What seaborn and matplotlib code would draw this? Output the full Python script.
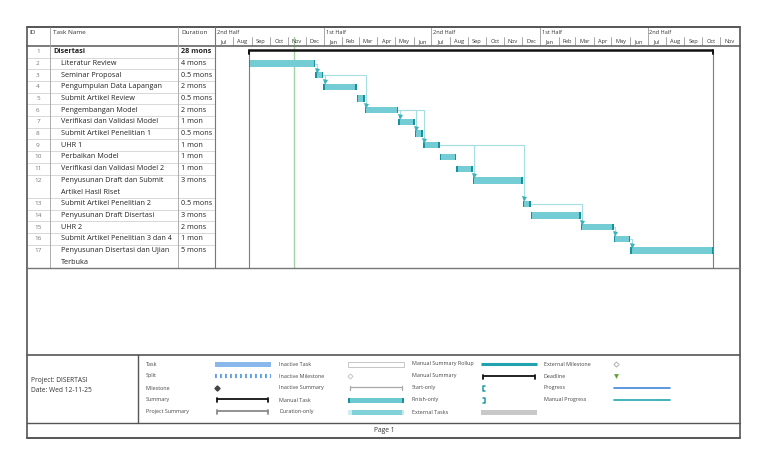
import numpy as np
import pandas as pd
import matplotlib
matplotlib.use("Agg")
import matplotlib.pyplot as plt
import matplotlib.dates as mdates
from matplotlib.patches import Rectangle
import seaborn as sns

# ---------------- data ----------------
task_ids = list(range(1, 18))
task_names = [
    "Disertasi", "Literatur Review", "Seminar Proposal", "Pengumpulan Data Lapangan",
    "Submit Artikel Review", "Pengembangan Model", "Verifikasi dan Validasi Model",
    "Submit Artikel Penelitian 1", "UHR 1", "Perbaikan Model",
    "Verifikasi dan Validasi Model 2", "Penyusunan Draft dan Submit\nArtikel Hasil Riset",
    "Submit Artikel Penelitian 2", "Penyusunan Draft Disertasi", "UHR 2",
    "Submit Artikel Penelitian 3 dan 4", "Penyusunan Disertasi dan Ujian\nTerbuka",
]
durations_mons = [28, 4, 0.5, 2, 0.5, 2, 1, 0.5, 1, 1, 1, 3, 0.5, 3, 2, 1, 5]
start_mons = [0, 0, 4, 4.5, 6.5, 7, 9, 10, 10.5, 11.5, 12.5, 13.5, 16.5, 17, 20, 22, 23]
row_lines = [1, 1, 1, 1, 1, 1, 1, 1, 1, 1, 1, 2, 1, 1, 1, 1, 2]
links = [(2, 3), (3, 4), (3, 6), (6, 7), (6, 8), (6, 9), (9, 12), (9, 13),
         (13, 15), (15, 16), (16, 17)]
project_start = "2025-08-27"
status_date = "2025-11-12"
timescale_start = "2025-07-01"
timescale_end = "2027-12-04"
days_per_mon = 28
project_name = "Project: DISERTASI"
project_date = "Date: Wed 12-11-25"

legend_col1 = ["Task", "Split", "Milestone", "Summary", "Project Summary"]
legend_col2 = ["Inactive Task", "Inactive Milestone", "Inactive Summary", "Manual Task", "Duration-only"]
legend_col3 = ["Manual Summary Rollup", "Manual Summary", "Start-only", "Finish-only", "External Tasks"]
legend_col4 = ["External Milestone", "Deadline", "Progress", "Manual Progress"]

# ---------------- style ----------------
sns.set_theme(style="white")
plt.rcParams["font.family"] = ["Open Sans", "DejaVu Sans"]

W, H = 768, 466
fig = plt.figure(figsize=(W / 100, H / 100), dpi=100)
fig.patch.set_facecolor("white")


def px_rect(x0, y0, x1, y1):
    return [x0 / W, 1 - y1 / H, (x1 - x0) / W, (y1 - y0) / H]


BAR = "#74cdd4"
CAP = "#17919b"
LINK = "#a6dfe3"
TXT = "#222222"

tops = np.concatenate([[0], np.cumsum(row_lines)[:-1]])
n_units = float(np.sum(row_lines))
centers = tops + 0.5

t0 = mdates.date2num(pd.Timestamp(timescale_start))
t1 = mdates.date2num(pd.Timestamp(timescale_end))
p0 = mdates.date2num(pd.Timestamp(project_start))
starts = p0 + np.array(start_mons) * days_per_mon
durs = np.array(durations_mons) * days_per_mon
ends = starts + durs

# ---------------- table ----------------
tab = fig.add_axes(px_rect(27, 46, 215, 268))
tab.set_xlim(27, 215)
tab.set_ylim(n_units, 0)
tab.axis("off")
for i, (tid, name, d) in enumerate(zip(task_ids, task_names, durations_mons)):
    top = tops[i]
    tab.text(38, top + 0.5, str(tid), ha="center", va="center", fontsize=4.6, color="#777777")
    bold = "bold" if i == 0 else "normal"
    x_name = 53 if i == 0 else 61
    for k, line in enumerate(name.split("\n")):
        tab.text(x_name, top + 0.5 + k, line, ha="left", va="center", fontsize=5.2,
                 color=TXT, fontweight=bold)
    dlabel = f"{d:g} mon" + ("" if d == 1 else "s")
    tab.text(181, top + 0.5, dlabel, ha="left", va="center", fontsize=5.2, color=TXT,
             fontweight=bold)
    tab.plot([27, 215], [top + row_lines[i]] * 2, color="#c9c9c9", lw=0.5)

# ---------------- gantt ----------------
gan = fig.add_axes(px_rect(215, 46, 740, 268))
gan.set_xlim(t0, t1)
gan.set_ylim(n_units, 0)
gan.axis("off")

# project start / finish lines and status date line
gan.plot([starts[0], starts[0]], [0.4, n_units], color="#7d7d7d", lw=0.8)
gan.plot([ends[0], ends[0]], [0.4, n_units], color="#7d7d7d", lw=0.8)
sd = mdates.date2num(pd.Timestamp(status_date))
gan.axvline(sd, color="#9fd49f", lw=1.0, zorder=1)

# summary bar
gan.plot([starts[0], ends[0]], [0.38, 0.38], color="#111111", lw=1.8, solid_capstyle="butt")
gan.plot([starts[0], starts[0]], [0.3, 0.68], color="#111111", lw=1.4)
gan.plot([ends[0], ends[0]], [0.3, 0.68], color="#111111", lw=1.4)

# links
bar_h = 0.54
for p, s in links:
    pi, si = p - 1, s - 1
    xs = starts[si] + 2.5
    ytop = centers[si] - bar_h / 2
    gan.plot([ends[pi], xs, xs], [centers[pi], centers[pi], ytop - 0.15],
             color=LINK, lw=0.8, zorder=2)
    gan.plot([xs], [ytop - 0.12], marker="v", markersize=3.6, color="#3db2bb",
             markeredgewidth=0, zorder=4)

# task bars
cap = 2.6
gan.barh(centers[1:], durs[1:], left=starts[1:], height=bar_h, color=BAR,
         edgecolor="none", zorder=3)
gan.barh(centers[1:], [cap] * 16, left=starts[1:], height=bar_h, color=CAP,
         edgecolor="none", zorder=3)
gan.barh(centers[1:], [cap] * 16, left=ends[1:] - cap, height=bar_h, color=CAP,
         edgecolor="none", zorder=3)

# ---------------- timescale header ----------------
hdr = fig.add_axes(px_rect(215, 27, 740, 46))
hdr.set_xlim(t0, t1)
hdr.set_ylim(1, 0)
hdr.axis("off")
months = pd.date_range(timescale_start, "2027-11-01", freq="MS")
for m in months:
    a = mdates.date2num(m)
    b = min(mdates.date2num(m + pd.offsets.MonthBegin(1)), t1)
    hdr.text((a + b) / 2, 0.78, m.strftime("%b"), ha="center", va="center",
             fontsize=4.1, color="#333333")
    if a > t0:
        if m.month in (1, 7):
            hdr.plot([a, a], [0, 1], color="#9a9a9a", lw=0.6)
        else:
            hdr.plot([a, a], [0.55, 1], color="#9a9a9a", lw=0.6)
    if m.month in (1, 7):
        lbl = "1st Half" if m.month == 1 else "2nd Half"
        hdr.text(a + 3, 0.3, lbl, ha="left", va="center", fontsize=4.1, color="#333333")
hdr.plot([sd, sd], [0.55, 1], color="#9fd49f", lw=1.0)

# ---------------- frame, headers, legend ----------------
bg = fig.add_axes([0, 0, 1, 1], zorder=10)
bg.set_xlim(0, W)
bg.set_ylim(H, 0)
bg.axis("off")
bg.patch.set_alpha(0)

dark = "#555555"
bg.plot([27, 740], [27, 27], color=dark, lw=1.4)
bg.plot([27, 740], [46, 46], color="#666666", lw=1.2)
bg.plot([27, 27], [27, 438], color=dark, lw=1.2)
bg.plot([740, 740], [27, 438], color=dark, lw=1.2)
for xv in (50, 178):
    bg.plot([xv, xv], [27, 268], color="#a0a0a0", lw=0.6)
bg.plot([215, 215], [27, 268], color="#777777", lw=0.8)
bg.plot([27, 740], [268, 268], color="#777777", lw=1.0)
bg.plot([27, 740], [355, 355], color=dark, lw=1.2)
bg.plot([138, 138], [355, 423], color=dark, lw=1.0)
bg.plot([27, 740], [423, 423], color=dark, lw=1.0)
bg.plot([27, 740], [438, 438], color=dark, lw=1.4)

bg.text(29, 33, "ID", fontsize=4.6, color="#333333", ha="left", va="center")
bg.text(53, 33, "Task Name", fontsize=4.6, color="#333333", ha="left", va="center")
bg.text(181, 33, "Duration", fontsize=4.6, color="#333333", ha="left", va="center")

bg.text(31, 380, project_name, fontsize=4.8, color="#333333", ha="left", va="center")
bg.text(31, 391, project_date, fontsize=4.8, color="#333333", ha="left", va="center")
bg.text(384, 431, "Page 1", fontsize=4.8, color="#333333", ha="center", va="center")

ly = [364, 376, 388, 400, 412]
lfs = 3.9
lcol = "#444444"
for labels, xl in ((legend_col1, 146), (legend_col2, 279), (legend_col3, 412), (legend_col4, 544)):
    for lab, yv in zip(labels, ly):
        bg.text(xl, yv, lab, fontsize=lfs, color=lcol, ha="left", va="center")


def bracket(x0, x1, y, color, lw=1.3):
    bg.plot([x0, x1], [y - 1.5, y - 1.5], color=color, lw=lw, solid_capstyle="butt")
    bg.plot([x0, x0], [y - 2, y + 2], color=color, lw=lw)
    bg.plot([x1, x1], [y - 2, y + 2], color=color, lw=lw)


# column 1
bg.add_patch(Rectangle((215, 361.5), 56, 5, color="#8bb8ea", lw=0))
bg.plot([215, 271], [376, 376], color="#5c9fe6", lw=3, linestyle=(0, (0.45, 0.75)))
bg.plot([217], [388], marker="D", markersize=2.6, color="#444444")
bracket(217, 268, 400, "#111111")
bracket(217, 268, 412, "#8a8a8a")
# column 2
bg.add_patch(Rectangle((348, 361.5), 56, 5, facecolor="white", edgecolor="#bdbdbd", lw=0.6))
bg.plot([350], [376], marker="D", markersize=2.6, markerfacecolor="white",
        markeredgecolor="#bdbdbd", markeredgewidth=0.6)
bracket(350, 402, 388, "#a8a8a8", lw=0.9)
bg.add_patch(Rectangle((348, 397.5), 56, 5, color="#6cc9d1", lw=0))
bg.add_patch(Rectangle((348, 397.5), 1.6, 5, color=CAP, lw=0))
bg.add_patch(Rectangle((402.4, 397.5), 1.6, 5, color=CAP, lw=0))
bg.add_patch(Rectangle((348, 409.5), 56, 5, color="#80d1d8", lw=0))
bg.add_patch(Rectangle((348, 409.5), 4, 5, color="#cdeef0", lw=0))
bg.add_patch(Rectangle((401.5, 409.5), 2.5, 5, color="#c2eaed", lw=0))
# column 3
bg.plot([481, 537], [364, 364], color="#1fa3ae", lw=2.2, solid_capstyle="butt")
bracket(483, 535, 377, "#111111")
bg.plot([485, 483, 483, 485], [386, 386, 390.5, 390.5], color="#1b9aa5", lw=1.1)
bg.plot([483, 485, 485, 483], [398, 398, 402.5, 402.5], color="#1b9aa5", lw=1.1)
bg.add_patch(Rectangle((481, 409.5), 56, 5, color="#c8c8c8", lw=0))
# column 4
bg.plot([616], [364], marker="D", markersize=2.6, markerfacecolor="white",
        markeredgecolor="#b0b0b0", markeredgewidth=0.7)
bg.plot([616], [376], marker="v", markersize=3.4, color="#5aa02c", markeredgewidth=0)
bg.plot([614, 670], [388, 388], color="#3f86dc", lw=1.2)
bg.plot([614, 670], [400, 400], color="#21a5b0", lw=1.2)

fig.savefig("out.png", dpi=100, facecolor="white")
